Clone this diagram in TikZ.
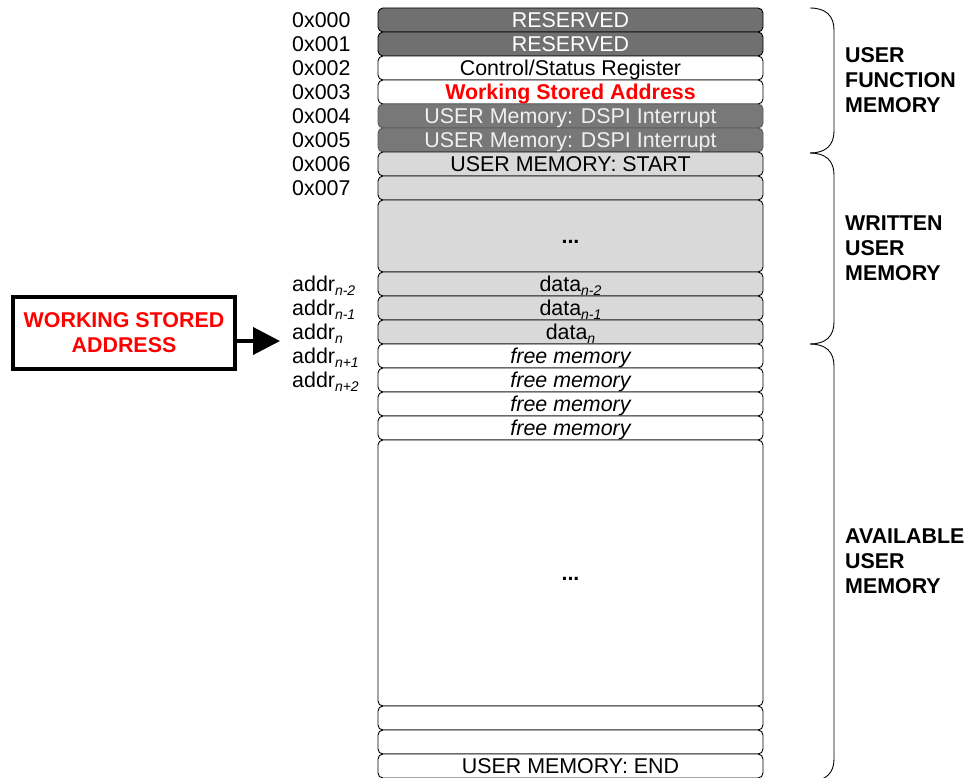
\documentclass[tikz,border=0pt]{standalone}
\usepackage{fontspec}
\setmainfont{Liberation Sans}
\usetikzlibrary{arrows.meta}
\definecolor{rowdark}{HTML}{707070}
\definecolor{rowdarkb}{HTML}{787878}
\definecolor{rowlight}{HTML}{D9D9D9}
\newcommand\sbs[1]{\raisebox{-4pt}{\fontsize{14}{14}\selectfont\itshape #1}}
\newcommand\fsz{\fontsize{21.4}{25}\selectfont}
\begin{document}
\begin{tikzpicture}[x=1pt,y=-1pt,
  every node/.style={font=\fsz, inner sep=0pt},
  row/.style={draw=black, line width=0.9pt, rounded corners=5pt,
    minimum width=385pt, minimum height=24pt, text height=15pt, text depth=0pt},
  darkrow/.style={row, fill=rowdark, text=white},
  darkrowb/.style={row, fill=rowdarkb, draw=gray!70!black, text=white!94!black},
  lightrow/.style={row, fill=rowlight},
  whiterow/.style={row, fill=white},
  addr/.style={anchor=west, text height=15pt, text depth=0pt},
  side/.style={anchor=west, align=left, font=\fsz\bfseries},
  brace/.style={draw=black, line width=0.9pt}
]
\useasboundingbox (0,0) rectangle (969,778);

% memory rows
\node[darkrow]  (r0) at (570.5,20)  {RESERVED};
\node[darkrow]  (r1) at (570.5,44)  {RESERVED};
\node[whiterow] (r2) at (570.5,68)  {Control/Status Register};
\node[whiterow, text=red, font=\fsz\bfseries] (r3) at (570.5,92) {Working Stored Address};
\node[darkrowb] (r4) at (570.5,116) {USER Memory: DSPI Interrupt};
\node[darkrowb] (r5) at (570.5,140) {USER Memory: DSPI Interrupt};
\node[lightrow] (r6) at (570.5,164) {USER MEMORY: START};
\node[lightrow] (r7) at (570.5,188) {};
\node[lightrow, minimum height=72pt, font=\fsz\bfseries] (rb1) at (570.5,236) {...};
\node[lightrow] (rn2) at (570.5,284) {data\sbs{n-2}};
\node[lightrow] (rn1) at (570.5,308) {data\sbs{n-1}};
\node[lightrow] (rn)  at (570.5,332) {data\sbs{n}};
\node[whiterow, font=\fsz\itshape] (rp1) at (570.5,356) {free memory};
\node[whiterow, font=\fsz\itshape] (rp2) at (570.5,380) {free memory};
\node[whiterow, font=\fsz\itshape] (rp3) at (570.5,404) {free memory};
\node[whiterow, font=\fsz\itshape] (rp4) at (570.5,428) {free memory};
\node[whiterow, minimum height=266pt, font=\fsz\bfseries] (rb2) at (570.5,573) {...};
\node[whiterow] (re2) at (570.5,718) {};
\node[whiterow] (re1) at (570.5,742) {};
\node[whiterow] (rend) at (570.5,766) {USER MEMORY: END};

% address labels
\node[addr] (a0) at (292,20)  {0x000};
\node[addr] (a1) at (292,44)  {0x001};
\node[addr] (a2) at (292,68)  {0x002};
\node[addr] (a3) at (292,92)  {0x003};
\node[addr] (a4) at (292,116) {0x004};
\node[addr] (a5) at (292,140) {0x005};
\node[addr] (a6) at (292,164) {0x006};
\node[addr] (a7) at (292,188) {0x007};
\node[addr] (an2) at (292,284) {addr\sbs{n-2}};
\node[addr] (an1) at (292,308) {addr\sbs{n-1}};
\node[addr] (an)  at (292,332) {addr\sbs{n}};
\node[addr] (ap1) at (292,356) {addr\sbs{n+1}};
\node[addr] (ap2) at (292,380) {addr\sbs{n+2}};

% working stored address pointer
\node[draw=black, line width=4pt, minimum width=222pt, minimum height=72pt,
      align=center, text=red, font=\fsz\bfseries] (wsa) at (124,333)
      {WORKING STORED\\ADDRESS};
\coordinate (tip) at (280,341);
\draw[line width=4pt, -{Triangle[length=27pt,width=27pt]}] (wsa.east |- tip) -- (tip);

% braces
\coordinate (b1t) at (810,8);
\coordinate (b1b) at (810,153);
\coordinate (b2b) at (810,344);
\coordinate (b3b) at (810,781);
\draw[brace] (b1t) .. controls (826,8) and (834,16) .. (834,30) -- (834,131)
  .. controls (834,145) and (826,153) .. (b1b);
\draw[brace] (b1b) .. controls (826,153) and (834,161) .. (834,175) -- (834,322)
  .. controls (834,336) and (826,344) .. (b2b);
\draw[brace] (b2b) .. controls (826,344) and (834,352) .. (834,366) -- (834,759)
  .. controls (834,773) and (826,781) .. (b3b);

% section labels
\node[side] (s1) at (845,80.5)  {USER\\FUNCTION\\MEMORY};
\node[side] (s2) at (845,248.5) {WRITTEN\\USER\\MEMORY};
\node[side] (s3) at (845,561)   {AVAILABLE\\USER\\MEMORY};
\end{tikzpicture}
\end{document}
